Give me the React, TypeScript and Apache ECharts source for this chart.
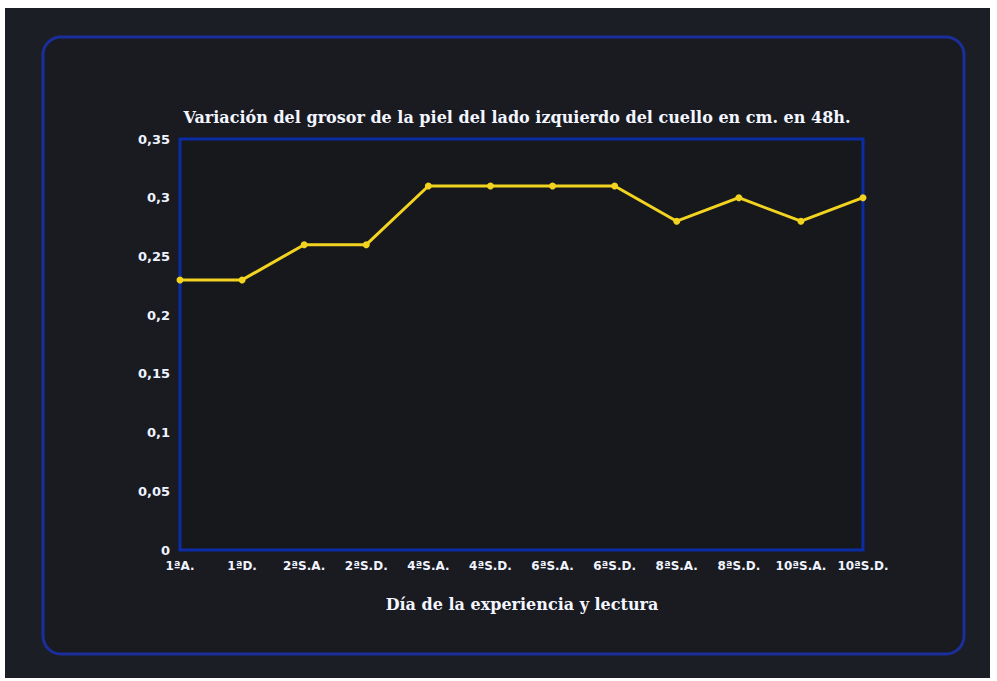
import React, { useEffect, useRef } from "react";
import * as echarts from "echarts";

const categories = [
  "1ªA.", "1ªD.", "2ªS.A.", "2ªS.D.", "4ªS.A.", "4ªS.D.",
  "6ªS.A.", "6ªS.D.", "8ªS.A.", "8ªS.D.", "10ªS.A.", "10ªS.D.",
];
const grosor = [0.23, 0.23, 0.26, 0.26, 0.31, 0.31, 0.31, 0.31, 0.28, 0.3, 0.28, 0.3];
const yTicks = { min: 0, max: 0.35, interval: 0.05 };

const titleText = "Variación del grosor de la piel del lado izquierdo del cuello en cm. en 48h.";
const xName = "Día de la experiencia y lectura";

export default function App() {
  const ref = useRef<HTMLDivElement>(null);

  useEffect(() => {
    if (!ref.current) return;
    const chart = echarts.init(ref.current, null, { renderer: "svg" });
    const serif = "'DejaVu Serif', 'Liberation Serif', serif";
    const sans = "'DejaVu Sans', 'Liberation Sans', sans-serif";
    chart.setOption({
      animation: false,
      backgroundColor: "#ffffff",
      graphic: [
        {
          type: "rect",
          z: -10,
          shape: { x: 5, y: 8, width: 985, height: 670 },
          style: { fill: "#1c1e25" },
          silent: true,
        },
        {
          type: "rect",
          z: -9,
          shape: { x: 43, y: 37, width: 921, height: 617, r: 18 },
          style: { fill: "#191b21", stroke: "#1a2e9c", lineWidth: 3 },
          silent: true,
        },
        {
          type: "text",
          x: 517,
          y: 117,
          style: {
            text: titleText,
            fill: "#f4f6ff",
            font: `bold 16px ${serif}`,
            textAlign: "center",
            textVerticalAlign: "middle",
          },
        },
        {
          type: "text",
          x: 522,
          y: 604,
          style: {
            text: xName,
            fill: "#f4f6ff",
            font: `bold 16px ${serif}`,
            textAlign: "center",
            textVerticalAlign: "middle",
          },
        },
      ],
      grid: {
        left: 180,
        right: 134,
        top: 139,
        bottom: 131,
        show: true,
        backgroundColor: "#17181c",
        borderColor: "#0c2ca6",
        borderWidth: 3,
        containLabel: false,
      },
      xAxis: {
        type: "category",
        data: categories,
        boundaryGap: false,
        axisLine: { show: false },
        axisTick: { show: false },
        axisLabel: {
          color: "#f0f4ff",
          fontFamily: sans,
          fontWeight: "bold",
          fontSize: 12,
          margin: 10,
          interval: 0,
        },
        splitLine: { show: false },
      },
      yAxis: {
        type: "value",
        min: yTicks.min,
        max: yTicks.max,
        interval: yTicks.interval,
        axisLine: { show: false },
        axisTick: { show: false },
        splitLine: { show: false },
        axisLabel: {
          color: "#eef4ff",
          fontFamily: sans,
          fontWeight: "bold",
          fontSize: 13,
          margin: 10,
          formatter: (v: number) => String(parseFloat(v.toFixed(2))).replace(".", ","),
        },
      },
      series: [
        {
          type: "line",
          data: grosor,
          symbol: "circle",
          symbolSize: 7,
          lineStyle: { color: "#f2d420", width: 3 },
          itemStyle: { color: "#f2d420" },
        },
      ],
    });
    return () => chart.dispose();
  }, []);

  return (
    <div
      ref={ref}
      style={{ position: "absolute", left: 0, top: 0, width: 997, height: 681 }}
    />
  );
}
